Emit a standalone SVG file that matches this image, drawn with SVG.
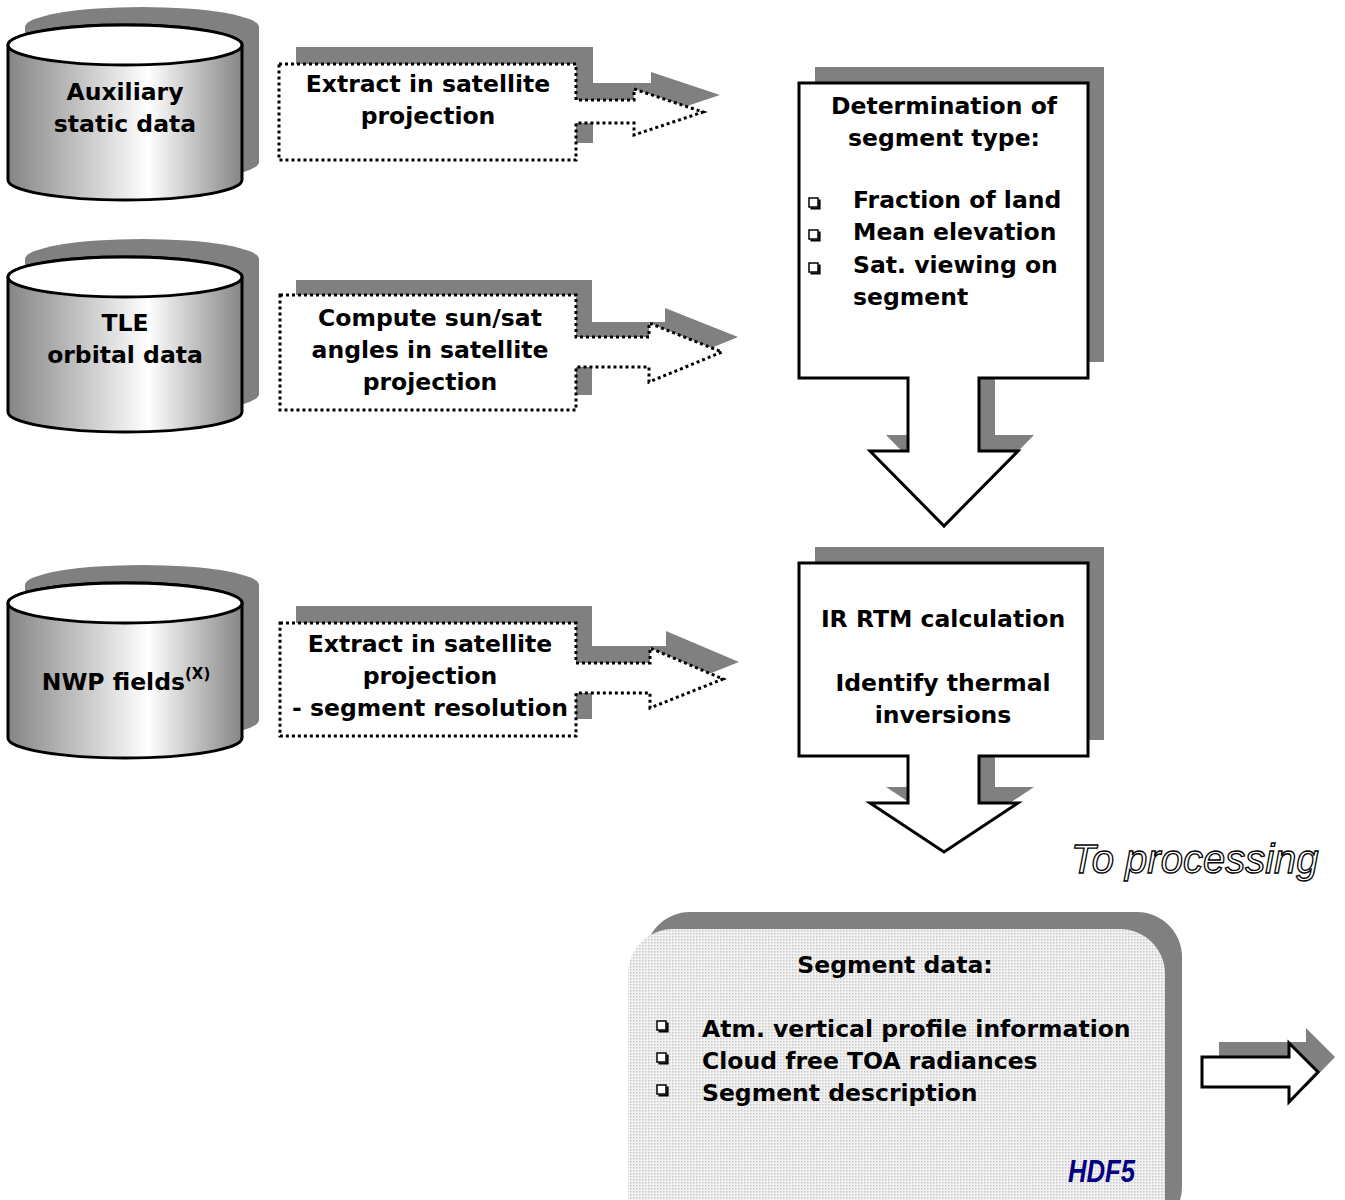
<svg xmlns="http://www.w3.org/2000/svg" xmlns:xlink="http://www.w3.org/1999/xlink" width="1345" height="1200" viewBox="0 0 1345 1200">
<style>
.t{font-family:"DejaVu Sans",Verdana,sans-serif;font-weight:bold;font-size:23.5px;fill:#000}
.c{text-anchor:middle}
.sh{fill:#808080;stroke:none}
.out{fill:#fff;stroke:#000;stroke-width:3;stroke-linejoin:miter}
.dot{fill:#fff;stroke:#000;stroke-width:3;stroke-dasharray:3 3}
</style>
<defs>
<linearGradient id="cylg" x1="0" y1="0" x2="1" y2="0">
<stop offset="0" stop-color="#858585"/>
<stop offset="0.6" stop-color="#ffffff"/>
<stop offset="1" stop-color="#858585"/>
</linearGradient>
<pattern id="dots" width="3" height="3" patternUnits="userSpaceOnUse">
<rect width="3" height="3" fill="#f2f2f2"/>
<rect width="1.5" height="1.5" fill="#c8c8c8"/>
</pattern>
<path id="cylBody" d="M8,45 L8,180 A117,20 0 0 0 242,180 L242,45 A117,20 0 0 0 8,45 Z"/>
<g id="cyl">
<use xlink:href="#cylBody" transform="translate(17,-18)" class="sh"/>
<use xlink:href="#cylBody" fill="url(#cylg)" stroke="#000" stroke-width="3"/>
<ellipse cx="125" cy="45" rx="117" ry="20" fill="#fff" stroke="#000" stroke-width="3"/>
</g>
<g id="bul">
<rect x="0" y="0" width="9" height="9" fill="#fff" stroke="#000" stroke-width="1.5"/>
<path d="M1.5,10.5 H10.5 V1.5" fill="none" stroke="#000" stroke-width="2.2"/>
</g>
</defs>
<rect width="1345" height="1200" fill="#fff"/>

<g id="aux">
<use xlink:href="#cyl"/>
<text class="t c" x="125" y="100">Auxiliary</text>
<text class="t c" x="125" y="132">static data</text>
</g>

<g id="tle" transform="translate(0,232)">
<use xlink:href="#cyl"/>
<text class="t c" x="125" y="99">TLE</text>
<text class="t c" x="125" y="131">orbital data</text>
</g>

<g id="nwp" transform="translate(0,558)">
<use xlink:href="#cyl"/>
<text class="t c" x="126" y="132">NWP fields<tspan font-size="15" dy="-11">(X)</tspan></text>
</g>

<g id="extract1">
<path class="sh" d="M279,64 H576 V100 H634 V89 L703,112 L634,135 V123 H576 V160 H279 Z" transform="translate(17,-17)"/>
<path class="dot" d="M279,64 H576 V100 H634 V89 L703,112 L634,135 V123 H576 V160 H279 Z"/>
<text class="t c" x="428" y="92">Extract in satellite</text>
<text class="t c" x="428" y="124">projection</text>
</g>

<g id="compute">
<path class="sh" d="M280,295 H576 V337 H649 V323 L722,352 L649,382 V367 H576 V410 H280 Z" transform="translate(16,-15)"/>
<path class="dot" d="M280,295 H576 V337 H649 V323 L722,352 L649,382 V367 H576 V410 H280 Z"/>
<text class="t c" x="430" y="326">Compute sun/sat</text>
<text class="t c" x="430" y="358">angles in satellite</text>
<text class="t c" x="430" y="390">projection</text>
</g>

<g id="extract2">
<path class="sh" d="M280,623 H576 V663 H650 V648 L723,679 L650,708 V693 H576 V736 H280 Z" transform="translate(16,-17)"/>
<path class="dot" d="M280,623 H576 V663 H650 V648 L723,679 L650,708 V693 H576 V736 H280 Z"/>
<text class="t c" x="430" y="652">Extract in satellite</text>
<text class="t c" x="430" y="684">projection</text>
<text class="t c" x="430" y="716">- segment resolution</text>
</g>

<g id="segtype">
<path class="sh" d="M799,83 H1088 V378 H979 V451 H1018 L944,526 L870,451 H908 V378 H799 Z" transform="translate(16,-16)"/>
<path class="out" d="M799,83 H1088 V378 H979 V451 H1018 L944,526 L870,451 H908 V378 H799 Z"/>
<text class="t c" x="944" y="114">Determination of</text>
<text class="t c" x="944" y="146">segment type:</text>
<use xlink:href="#bul" x="809" y="198"/>
<use xlink:href="#bul" x="809" y="230"/>
<use xlink:href="#bul" x="809" y="263"/>
<text class="t" x="853" y="208">Fraction of land</text>
<text class="t" x="853" y="240">Mean elevation</text>
<text class="t" x="853" y="273">Sat. viewing on</text>
<text class="t" x="853" y="305">segment</text>
</g>

<g id="irrtm">
<path class="sh" d="M799,563 H1088 V756 H979 V803 H1018 L944,852 L870,803 H908 V756 H799 Z" transform="translate(16,-16)"/>
<path class="out" d="M799,563 H1088 V756 H979 V803 H1018 L944,852 L870,803 H908 V756 H799 Z"/>
<text class="t c" x="943" y="627">IR RTM calculation</text>
<text class="t c" x="943" y="691">Identify thermal</text>
<text class="t c" x="943" y="723">inversions</text>
</g>

<g id="toprocessing">
<text x="1071" y="873" font-family="'Liberation Sans',Arial,sans-serif" font-style="italic" font-size="40" fill="#fff" stroke="#000" stroke-width="1.3">To processing</text>
</g>

<g id="segdata">
<rect class="sh" x="645" y="912" width="537" height="320" rx="45" ry="45"/>
<rect x="628" y="929" width="537" height="320" rx="45" ry="45" fill="url(#dots)"/>
<text class="t c" x="895" y="973">Segment data:</text>
<use xlink:href="#bul" x="657" y="1021"/>
<use xlink:href="#bul" x="657" y="1053"/>
<use xlink:href="#bul" x="657" y="1085"/>
<text class="t" x="702" y="1037">Atm. vertical profile information</text>
<text class="t" x="702" y="1069">Cloud free TOA radiances</text>
<text class="t" x="702" y="1101">Segment description</text>
<text x="1068" y="1182" font-family="'Liberation Sans',Arial,sans-serif" font-weight="bold" font-style="italic" font-size="31" fill="#000080" textLength="67" lengthAdjust="spacingAndGlyphs">HDF5</text>
</g>

<g id="connectors">
<path class="sh" d="M1202,1057 H1289 V1043 L1318,1072 L1289,1102 V1087 H1202 Z" transform="translate(17,-15)"/>
<path class="out" d="M1202,1057 H1289 V1043 L1318,1072 L1289,1102 V1087 H1202 Z"/>
</g>
</svg>
